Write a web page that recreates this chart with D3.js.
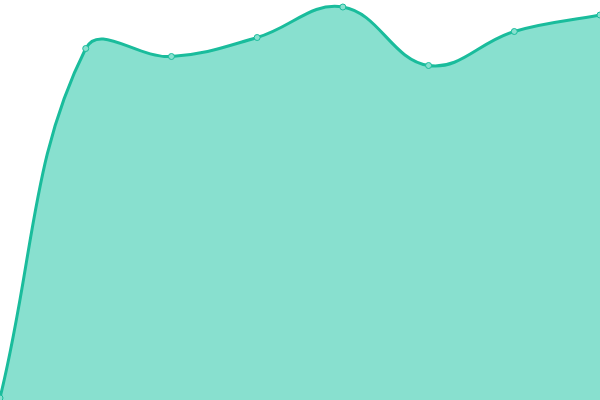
<!DOCTYPE html>
<html><head><meta charset="utf-8">
<script src="https://cdn.jsdelivr.net/npm/d3@7"></script>
<style>html,body{margin:0;padding:0;background:#fff;}svg{display:block;}</style>
</head><body>
<svg id="c" width="600" height="400"></svg>
<script>
const categories = [0,1,2,3,4,5,6,7];
const values = [2, 351.5, 343.5, 362.5, 393, 334.5, 368.5, 385];

const W = 600, H = 400;
const svg = d3.select("#c");
const x = d3.scaleLinear().domain([0, categories.length - 1]).range([0, W]);
const y = d3.scaleLinear().domain([0, 400]).range([H, 0]);
const pts = categories.map((c, i) => ({c, v: values[i], px: x(c), py: y(values[i])}));

// distance-weighted spline (tension 0.4)
function splinePath(p, closeBottom) {
  const t = 0.4, n = p.length;
  const cps = p.map((p1, i) => {
    const p0 = p[Math.max(0, i - 1)], p2 = p[Math.min(n - 1, i + 1)];
    const d01 = Math.hypot(p1.px - p0.px, p1.py - p0.py);
    const d12 = Math.hypot(p2.px - p1.px, p2.py - p1.py);
    let s01 = d01 / (d01 + d12), s12 = d12 / (d01 + d12);
    s01 = isNaN(s01) ? 0 : s01; s12 = isNaN(s12) ? 0 : s12;
    const fa = t * s01, fb = t * s12;
    return {
      px: p1.px - fa * (p2.px - p0.px), py: p1.py - fa * (p2.py - p0.py),
      nx: p1.px + fb * (p2.px - p0.px), ny: p1.py + fb * (p2.py - p0.py)
    };
  });
  const path = d3.path();
  path.moveTo(p[0].px, p[0].py);
  for (let i = 1; i < n; i++) {
    path.bezierCurveTo(cps[i-1].nx, cps[i-1].ny, cps[i].px, cps[i].py, p[i].px, p[i].py);
  }
  if (closeBottom) {
    path.lineTo(p[n-1].px, y(0));
    path.lineTo(p[0].px, y(0));
    path.closePath();
  }
  return path.toString();
}

svg.append("path").attr("fill", "#88e0cf").attr("d", splinePath(pts, true));
svg.append("path").attr("fill", "none").attr("stroke", "#1abc9c").attr("stroke-width", 3)
  .attr("d", splinePath(pts, false));
svg.selectAll("circle").data(pts).join("circle")
  .attr("cx", d => d.px).attr("cy", d => d.py).attr("r", 3)
  .attr("fill", "#88e0cf").attr("stroke", "#1abc9c").attr("stroke-width", 1);
</script>
</body></html>
